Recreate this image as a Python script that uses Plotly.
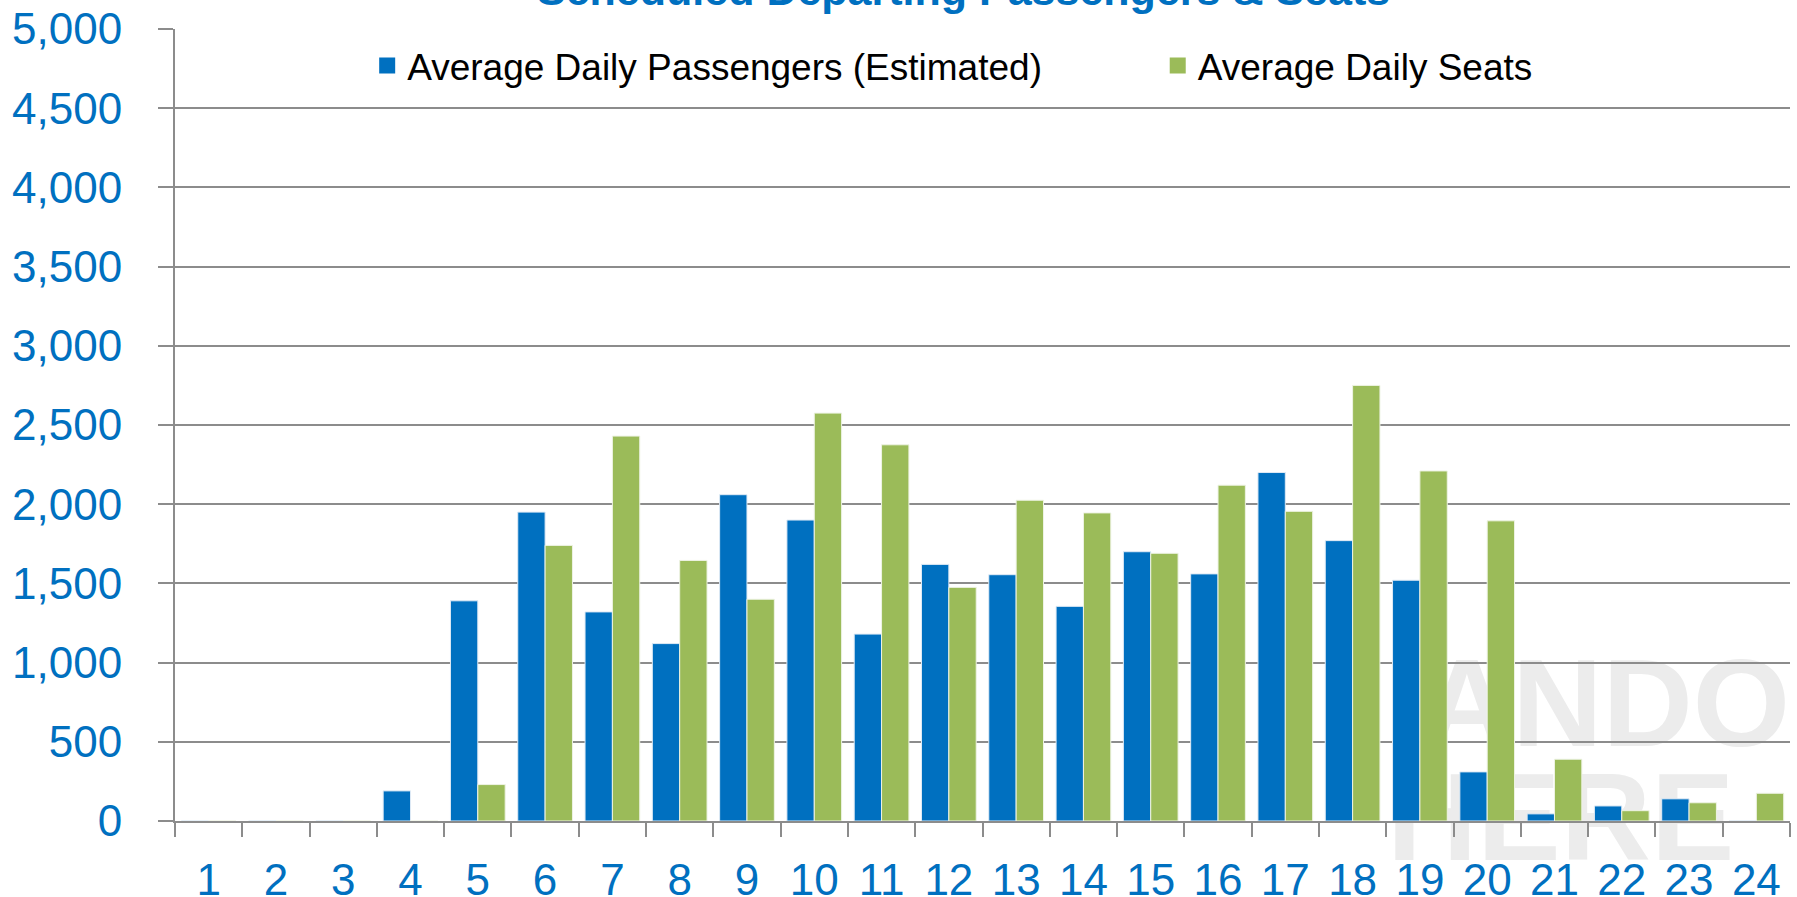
import plotly.graph_objects as go

hours = [str(h) for h in range(1, 25)]
passengers = [0, 0, 0, 190, 1390, 1950, 1320, 1120, 2060, 1900, 1180, 1620,
              1555, 1355, 1700, 1560, 2200, 1770, 1520, 310, 45, 95, 140, 0]
seats = [0, 0, 0, 0, 230, 1740, 2430, 1645, 1400, 2575, 2375, 1475,
         2025, 1945, 1690, 2120, 1955, 2750, 2210, 1895, 390, 65, 115, 175]
y_ticks = list(range(0, 5001, 500))

title_text = "Scheduled Departing Passengers & Seats"
name_pass = "Average Daily Passengers (Estimated)"
name_seats = "Average Daily Seats"

BLUE = "#0070C0"
GREEN = "#9BBB59"
GRID = "#8c8c8c"
FONT = "Liberation Sans, Arial, sans-serif"

fig = go.Figure()
fig.add_trace(go.Bar(x=hours, y=passengers, name=name_pass, showlegend=False,
                     marker=dict(color=BLUE, line=dict(color="#dfeaf5", width=1))))
fig.add_trace(go.Bar(x=hours, y=seats, name=name_seats, showlegend=False,
                     marker=dict(color=GREEN, line=dict(color="#eef3e4", width=1))))
# legend entries (square keys)
fig.add_trace(go.Scatter(x=[None], y=[None], mode="markers", name=name_pass, legend="legend",
                         showlegend=True, marker=dict(symbol="square", size=16, color=BLUE)))
fig.add_trace(go.Scatter(x=[None], y=[None], mode="markers", name=name_seats, legend="legend2",
                         showlegend=True, marker=dict(symbol="square", size=16, color=GREEN)))

fig.update_layout(
    width=1797, height=897,
    margin=dict(l=175, r=7, t=29, b=76, autoexpand=False),
    showlegend=True,
    paper_bgcolor="white",
    plot_bgcolor="rgba(0,0,0,0)",
    barmode="group",
    bargap=0.187,
    bargroupgap=0.0,
    font=dict(family=FONT),
    legend=dict(orientation="h", x=0.1190, xanchor="left", y=0.9533, yanchor="middle",
                font=dict(size=37, color="black", family=FONT), bgcolor="rgba(0,0,0,0)"),
    legend2=dict(orientation="h", x=0.6085, xanchor="left", y=0.9533, yanchor="middle",
                 font=dict(size=37, color="black", family=FONT), bgcolor="rgba(0,0,0,0)"),
    xaxis=dict(
        type="category",
        showgrid=False,
        showline=True, linecolor=GRID, linewidth=2,
        ticks="outside", ticklen=14, tickwidth=2, tickcolor=GRID,
        tickson="boundaries",
        tickfont=dict(size=44, color=BLUE, family=FONT),
        ticklabelstandoff=19,
    ),
    yaxis=dict(
        range=[0, 5000],
        tickvals=y_ticks,
        tickformat=",",
        showgrid=True, gridcolor=GRID, gridwidth=2,
        zeroline=False,
        showline=True, linecolor=GRID, linewidth=2,
        ticks="outside", ticklen=15, tickwidth=2, tickcolor=GRID,
        tickfont=dict(size=44, color=BLUE, family=FONT),
        ticklabelstandoff=27,
    ),
    annotations=[
        dict(text="<b>" + title_text + "</b>", xref="paper", yref="paper",
             x=0.488, y=1.017, xanchor="center", yanchor="bottom", showarrow=False,
             font=dict(size=43, color=BLUE, family=FONT)),
    ],
    shapes=[
        dict(type="rect", xref="paper", yref="paper", x0=0.794, x1=0.978, y0=0.115, y1=0.215,
             layer="below", line=dict(width=0), fillcolor="rgba(0,0,0,0)",
             label=dict(text="ANDO", textposition="middle center",
                        font=dict(size=125, color="#ececec", family=FONT, weight="bold"))),
        dict(type="rect", xref="paper", yref="paper", x0=0.76, x1=0.956, y0=-0.03, y1=0.072,
             layer="below", line=dict(width=0), fillcolor="rgba(0,0,0,0)",
             label=dict(text="HERE", textposition="middle center",
                        font=dict(size=125, color="#ececec", family=FONT, weight="bold"))),
    ],
)

fig.write_html("out.html", config={"displayModeBar": False},
               post_script="document.body.style.margin='0px';")
